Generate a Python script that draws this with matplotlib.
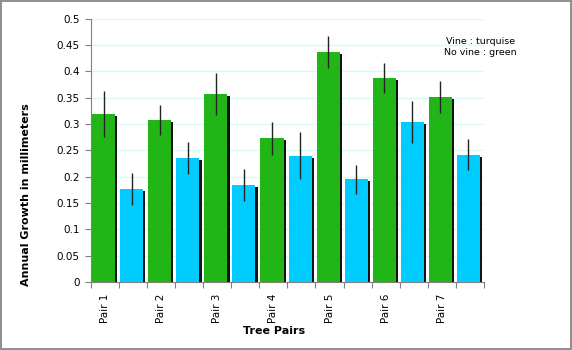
import matplotlib
matplotlib.use('Agg')
import matplotlib.pyplot as plt
import numpy as np

# Valores
pairs = ['Pair 1', 'Pair 2', 'Pair 3', 'Pair 4', 'Pair 5', 'Pair 6', 'Pair 7']
novine = [0.319, 0.308, 0.357, 0.273, 0.437, 0.387, 0.351]
novine_err = [0.044, 0.028, 0.040, 0.031, 0.030, 0.029, 0.030]
vine = [0.177, 0.235, 0.184, 0.240, 0.195, 0.304, 0.242]
vine_err = [0.030, 0.030, 0.031, 0.045, 0.028, 0.040, 0.030]

green = '#21b517'
blue = '#00ccff'

fig = plt.figure(figsize=(5.72, 3.5), dpi=100, linewidth=1.5, edgecolor='#909090')
ax = fig.add_axes([0.159, 0.194, 0.687, 0.753])

n = len(pairs)
xg = np.arange(n) * 2
xb = xg + 1
w = 0.82
# sombras
ax.bar(xg + 0.12, np.array(novine) - 0.004, w, align='edge', color='#111111', zorder=2)
ax.bar(xb + 0.12, np.array(vine) - 0.004, w, align='edge', color='#111111', zorder=2)
# barras
ax.bar(xg + 0.04, novine, w, align='edge', color=green, zorder=3)
ax.bar(xb + 0.04, vine, w, align='edge', color=blue, zorder=3)
ax.errorbar(xg + 0.45, novine, yerr=novine_err, fmt='none', ecolor='#222222', elinewidth=1, capsize=0, zorder=4)
ax.errorbar(xb + 0.45, vine, yerr=vine_err, fmt='none', ecolor='#222222', elinewidth=1, capsize=0, zorder=4)

ax.set_xlim(0, 2 * n)
ax.set_ylim(0, 0.5)
ax.set_yticks(np.arange(0, 0.501, 0.05))
ax.set_yticklabels(['0', '0.05', '0.1', '0.15', '0.2', '0.25', '0.3', '0.35', '0.4', '0.45', '0.5'])
ax.yaxis.grid(True, color='#d4fafa', linewidth=1)
ax.set_axisbelow(True)

ax.set_xticks(np.arange(0, 2 * n + 1))
ax.set_xticklabels([])
ax.set_xticks(xg + 0.5, minor=True)
ax.set_xticklabels(pairs, minor=True, rotation=90)
ax.tick_params(axis='x', which='minor', length=0, pad=8, labelsize=7.5)
ax.tick_params(axis='x', which='major', length=4, color='#808080')
ax.tick_params(axis='y', length=4, color='#808080', labelsize=7.5, pad=4)

for s in ['top', 'right']:
    ax.spines[s].set_visible(False)
for s in ['left', 'bottom']:
    ax.spines[s].set_color('#808080')

fig.text(0.045, 0.445, 'Annual Growth in millimeters', rotation=90, fontsize=8,
         fontweight='bold', ha='center', va='center')
fig.text(0.48, 0.055, 'Tree Pairs', fontsize=8, fontweight='bold', ha='center', va='center')
fig.text(0.84, 0.866, 'Vine : turquise\nNo vine : green', fontsize=6.8, ha='center', va='center',
         linespacing=1.2)

plt.savefig('out.png', dpi=100)
